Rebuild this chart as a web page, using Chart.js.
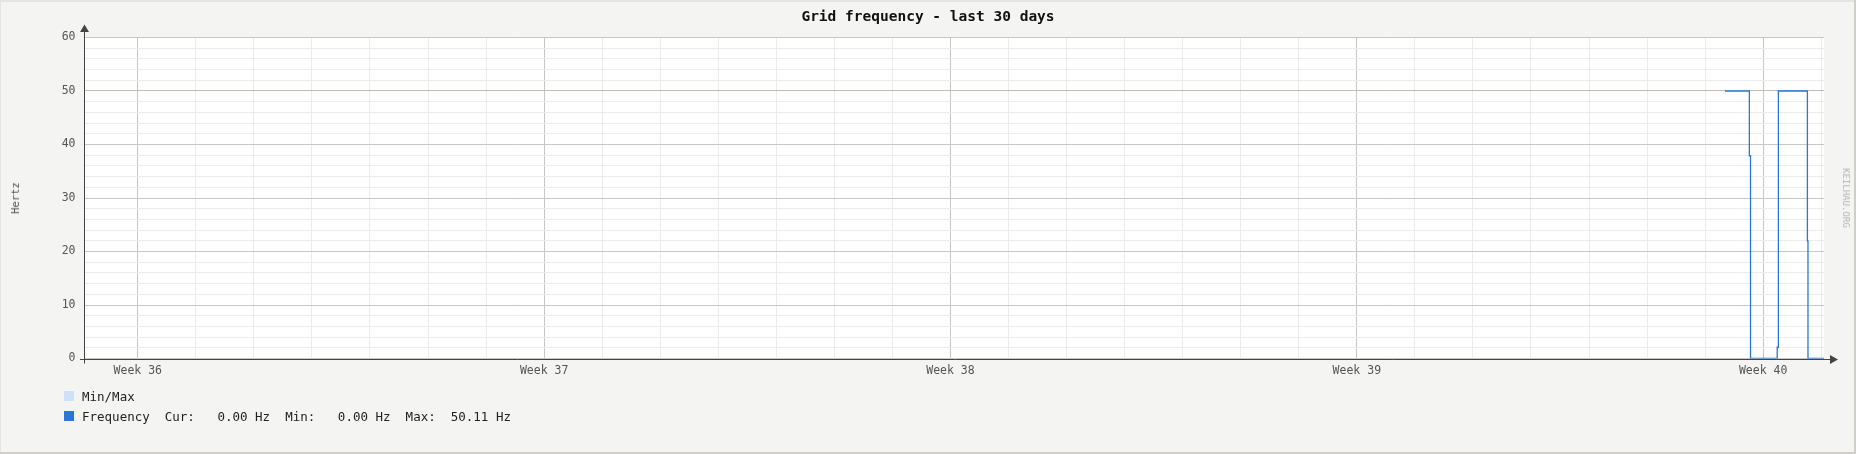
<!DOCTYPE html>
<html>
<head>
<meta charset="utf-8">
<script src="https://cdn.jsdelivr.net/npm/chart.js@4.4.1/dist/chart.umd.min.js"></script>
<style>
  html, body { margin: 0; padding: 0; background: #f4f4f2; }
  #wrap { position: relative; width: 1856px; height: 454px; overflow: hidden; background: #f4f4f2; }
  #c { position: absolute; left: 0; top: 0; }
  .txt { position: absolute; font-family: "DejaVu Sans Mono", monospace; white-space: pre; }
  #title { left: 0; width: 1856px; top: 7px; text-align: center; font-size: 14.5px; line-height: 18px; font-weight: bold; color: #111; }
  #ylab { left: 15px; top: 198px; font-size: 10.5px; line-height: 12px; color: #555; transform: translate(-50%, -50%) rotate(-90deg); }
  #wm { left: 1846px; top: 198px; font-size: 9px; line-height: 10px; color: #b4b4b4; transform: translate(-50%, -50%) rotate(90deg); }
  .leg { left: 82px; font-size: 12.5px; line-height: 16px; color: #222; }
  .sq { position: absolute; left: 64px; width: 10px; height: 10px; }
</style>
</head>
<body>
<div id="wrap">
  <canvas id="c" width="1856" height="454"></canvas>
  <div id="title" class="txt">Grid frequency - last 30 days</div>
  <div id="ylab" class="txt">Hertz</div>
  <div id="wm" class="txt">KEILHAU.ORG</div>
  <div class="sq" style="top:391px;background:#cde2f8;"></div>
  <div class="txt leg" style="top:389px;">Min/Max</div>
  <div class="sq" style="top:411px;background:#2a78d6;"></div>
  <div class="txt leg" style="top:409px;">Frequency  Cur:   0.00 Hz  Min:   0.00 Hz  Max:  50.11 Hz</div>
</div>
<script>
// ---- data (x in days since the start of the 30-day window) ----
const weekLabels = ['Week 36', 'Week 37', 'Week 38', 'Week 39', 'Week 40'];
const firstWeekStart = 0.918;      // Monday 00:00 of week 36, days from window start
const windowDays = 29.966;
const freqTimes = [28.26, 28.68, 28.70, 29.16, 29.18, 29.68, 29.69, 29.966];
const freqValues = [50.0, 37.9, 0.0, 2.1, 50.0, 22.0, 0.0, 0.0];
const maxValues = [50.11, 37.9, 0.0, 2.1, 50.05, 22.0, 0.0, 0.0];
const minValues = [49.95, 37.9, 0.0, 2.1, 49.95, 22.0, 0.0, 0.0];
const yTickLabels = [0, 10, 20, 30, 40, 50, 60];

const toPts = (xs, ys) => xs.map((x, i) => ({ x: x, y: ys[i] }));

const dayTicks = [];
for (let d = firstWeekStart; d <= windowDays; d += 1) dayTicks.push({ value: d });

const decor = {
  id: 'decor',
  beforeDraw(chart) {
    const { ctx, chartArea: a } = chart;
    ctx.save();
    ctx.fillStyle = '#ffffff';
    ctx.fillRect(a.left, a.top, a.right - a.left, a.bottom - a.top);
    ctx.restore();
  },
  afterDraw(chart) {
    const { ctx, chartArea: a } = chart;
    ctx.save();
    // frame shading
    ctx.fillStyle = '#e4e4e2';
    ctx.fillRect(0, 0, 1856, 2);
    ctx.fillRect(0, 0, 1, 454);
    ctx.fillStyle = '#cfcfc8';
    ctx.fillRect(0, 452, 1856, 2);
    ctx.fillRect(1854, 0, 2, 454);
    // axes
    ctx.strokeStyle = '#444';
    ctx.fillStyle = '#444';
    ctx.lineWidth = 1;
    const yb = Math.round(a.bottom) + 0.5;
    const xl = Math.floor(a.left) + 0.5;
    ctx.beginPath();
    ctx.moveTo(80, yb); ctx.lineTo(1831, yb);
    ctx.moveTo(xl, yb + 4); ctx.lineTo(xl, 31);
    ctx.stroke();
    ctx.beginPath();
    ctx.moveTo(1838, yb); ctx.lineTo(1830, yb - 4.5); ctx.lineTo(1830, yb + 4.5); ctx.closePath();
    ctx.fill();
    ctx.beginPath();
    ctx.moveTo(xl, 24.5); ctx.lineTo(xl - 4.5, 32); ctx.lineTo(xl + 4.5, 32); ctx.closePath();
    ctx.fill();
    ctx.restore();
  }
};

new Chart(document.getElementById('c'), {
  type: 'line',
  data: {
    datasets: [
      { label: 'Frequency', data: toPts(freqTimes, freqValues), stepped: true, borderWidth: 1.3, borderColor: '#2a78d6',
        fill: false, pointRadius: 0, order: 0 },
      { label: 'Max', data: toPts(freqTimes, maxValues), stepped: true, borderWidth: 0, borderColor: 'rgba(0,0,0,0)',
        backgroundColor: '#cde2f8', fill: '+1', pointRadius: 0, order: 1 },
      { label: 'Min', data: toPts(freqTimes, minValues), stepped: true, borderWidth: 0, borderColor: 'rgba(0,0,0,0)',
        fill: false, pointRadius: 0, order: 2 }
    ]
  },
  options: {
    responsive: false,
    animation: false,
    devicePixelRatio: 1,
    layout: { padding: { top: 37.5, right: 32, bottom: 0, left: 0 } },
    plugins: { legend: { display: false }, title: { display: false }, tooltip: { enabled: false } },
    scales: {
      x: {
        type: 'linear', min: 0, max: windowDays,
        afterBuildTicks: (s) => { s.ticks = dayTicks.map(t => ({ value: t.value })); },
        afterFit: (s) => { s.height = 95.5; },
        border: { display: false },
        grid: {
          drawTicks: false,
          color: (c) => (c.index % 7 === 0 ? '#c6c6c6' : '#ececec'),
          lineWidth: 1
        },
        ticks: {
          autoSkip: false, maxRotation: 0, padding: 6, color: '#555',
          font: { family: 'DejaVu Sans Mono', size: 11.5 },
          callback: (v, i) => (i % 7 === 0 ? weekLabels[i / 7] : '')
        }
      },
      y: {
        min: 0, max: 60,
        afterBuildTicks: (s) => {
          const t = [];
          for (let v = 0; v <= 60; v += 2) t.push({ value: v });
          s.ticks = t;
        },
        afterFit: (s) => { s.width = 84.5; },
        border: { display: false },
        grid: {
          drawTicks: false,
          color: (c) => {
            const v = c.tick ? c.tick.value : 0;
            if (v === 50) return '#bebeb2';
            return yTickLabels.includes(v) ? '#c8c8c8' : '#ececec';
          },
          lineWidth: 1
        },
        ticks: {
          autoSkip: false, padding: 9, color: '#555',
          font: { family: 'DejaVu Sans Mono', size: 11.5 },
          callback: (v) => (yTickLabels.includes(v) ? String(v) : '')
        }
      }
    }
  },
  plugins: [decor]
});
</script>
</body>
</html>
